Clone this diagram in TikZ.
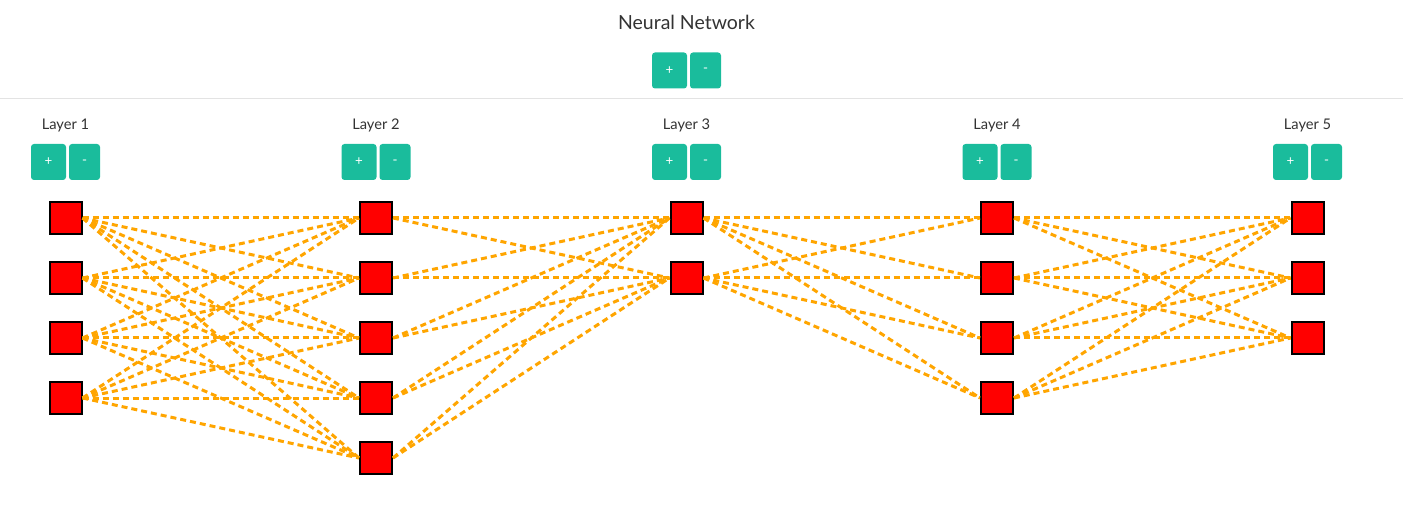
\documentclass[tikz,border=0pt]{standalone}
\usepackage{fontspec}
\setmainfont{Lato}
\usetikzlibrary{arrows}
\definecolor{btnteal}{HTML}{1ABC9C}
\definecolor{nnred}{HTML}{FF0000}
\definecolor{nnorange}{HTML}{FFA500}
\definecolor{txtgray}{HTML}{333333}
\definecolor{rulegray}{HTML}{E3E3E3}
\tikzstyle{neuron} = [rectangle, minimum size=24pt, inner sep=0pt, draw=black, line width=1.5pt, fill=nnred]
\tikzstyle{plusbtn} = [rectangle, rounded corners=2.25pt, minimum width=26.25pt, minimum height=27pt, inner sep=0pt, fill=btnteal, text=white, font=\fontsize{10}{10}\selectfont]
\tikzstyle{minusbtn} = [plusbtn, minimum width=23.25pt]
\tikzstyle{title} = [anchor=base, text=txtgray, font=\fontsize{14.6}{16}\selectfont]
\tikzstyle{layerlabel} = [anchor=base, text=txtgray, font=\fontsize{11}{12}\selectfont]
\tikzstyle{link} = [draw=nnorange, line width=2.25pt, dash pattern=on 4.5pt off 3pt]

\begin{document}
\begin{tikzpicture}[x=0.75pt, y=-0.75pt, node distance=45pt]

\useasboundingbox (0,0) rectangle (1403,513);

\node [title] (title) at (686.5,30) {Neural Network};
\node [plusbtn] (addlayer) at (669.5,70.5) {+};
\node [minusbtn] (dellayer) at (705.5,70.5) {-};
\draw [rulegray, line width=0.75pt] (0,99) -- (1403,99);

\node [layerlabel] (lab1) at (65.5,129.5) {Layer 1};
\node [layerlabel] (lab2) at (376,129.5) {Layer 2};
\node [layerlabel] (lab3) at (686.5,129.5) {Layer 3};
\node [layerlabel] (lab4) at (997,129.5) {Layer 4};
\node [layerlabel] (lab5) at (1307.5,129.5) {Layer 5};

\node [plusbtn] (add1) at (48.5,162) {+};
\node [minusbtn] (del1) at (84.5,162) {-};
\node [plusbtn] (add2) at (359,162) {+};
\node [minusbtn] (del2) at (395,162) {-};
\node [plusbtn] (add3) at (669.5,162) {+};
\node [minusbtn] (del3) at (705.5,162) {-};
\node [plusbtn] (add4) at (980,162) {+};
\node [minusbtn] (del4) at (1016,162) {-};
\node [plusbtn] (add5) at (1290.5,162) {+};
\node [minusbtn] (del5) at (1326.5,162) {-};

\node [neuron] (n11) at (65.5,218) {};
\node [neuron, below of = n11] (n12) {};
\node [neuron, below of = n12] (n13) {};
\node [neuron, below of = n13] (n14) {};

\node [neuron] (n21) at (376,218) {};
\node [neuron, below of = n21] (n22) {};
\node [neuron, below of = n22] (n23) {};
\node [neuron, below of = n23] (n24) {};
\node [neuron, below of = n24] (n25) {};

\node [neuron] (n31) at (686.5,218) {};
\node [neuron, below of = n31] (n32) {};

\node [neuron] (n41) at (997,218) {};
\node [neuron, below of = n41] (n42) {};
\node [neuron, below of = n42] (n43) {};
\node [neuron, below of = n43] (n44) {};

\node [neuron] (n51) at (1307.5,218) {};
\node [neuron, below of = n51] (n52) {};
\node [neuron, below of = n52] (n53) {};

\draw [link] (n11.east) -- (n21.west);
\draw [link] (n11.east) -- (n22.west);
\draw [link] (n11.east) -- (n23.west);
\draw [link] (n11.east) -- (n24.west);
\draw [link] (n11.east) -- (n25.west);
\draw [link] (n12.east) -- (n21.west);
\draw [link] (n12.east) -- (n22.west);
\draw [link] (n12.east) -- (n23.west);
\draw [link] (n12.east) -- (n24.west);
\draw [link] (n12.east) -- (n25.west);
\draw [link] (n13.east) -- (n21.west);
\draw [link] (n13.east) -- (n22.west);
\draw [link] (n13.east) -- (n23.west);
\draw [link] (n13.east) -- (n24.west);
\draw [link] (n13.east) -- (n25.west);
\draw [link] (n14.east) -- (n21.west);
\draw [link] (n14.east) -- (n22.west);
\draw [link] (n14.east) -- (n23.west);
\draw [link] (n14.east) -- (n24.west);
\draw [link] (n14.east) -- (n25.west);

\draw [link] (n21.east) -- (n31.west);
\draw [link] (n21.east) -- (n32.west);
\draw [link] (n22.east) -- (n31.west);
\draw [link] (n22.east) -- (n32.west);
\draw [link] (n23.east) -- (n31.west);
\draw [link] (n23.east) -- (n32.west);
\draw [link] (n24.east) -- (n31.west);
\draw [link] (n24.east) -- (n32.west);
\draw [link] (n25.east) -- (n31.west);
\draw [link] (n25.east) -- (n32.west);

\draw [link] (n31.east) -- (n41.west);
\draw [link] (n31.east) -- (n42.west);
\draw [link] (n31.east) -- (n43.west);
\draw [link] (n31.east) -- (n44.west);
\draw [link] (n32.east) -- (n41.west);
\draw [link] (n32.east) -- (n42.west);
\draw [link] (n32.east) -- (n43.west);
\draw [link] (n32.east) -- (n44.west);

\draw [link] (n41.east) -- (n51.west);
\draw [link] (n41.east) -- (n52.west);
\draw [link] (n41.east) -- (n53.west);
\draw [link] (n42.east) -- (n51.west);
\draw [link] (n42.east) -- (n52.west);
\draw [link] (n42.east) -- (n53.west);
\draw [link] (n43.east) -- (n51.west);
\draw [link] (n43.east) -- (n52.west);
\draw [link] (n43.east) -- (n53.west);
\draw [link] (n44.east) -- (n51.west);
\draw [link] (n44.east) -- (n52.west);
\draw [link] (n44.east) -- (n53.west);

\end{tikzpicture}
\end{document}
